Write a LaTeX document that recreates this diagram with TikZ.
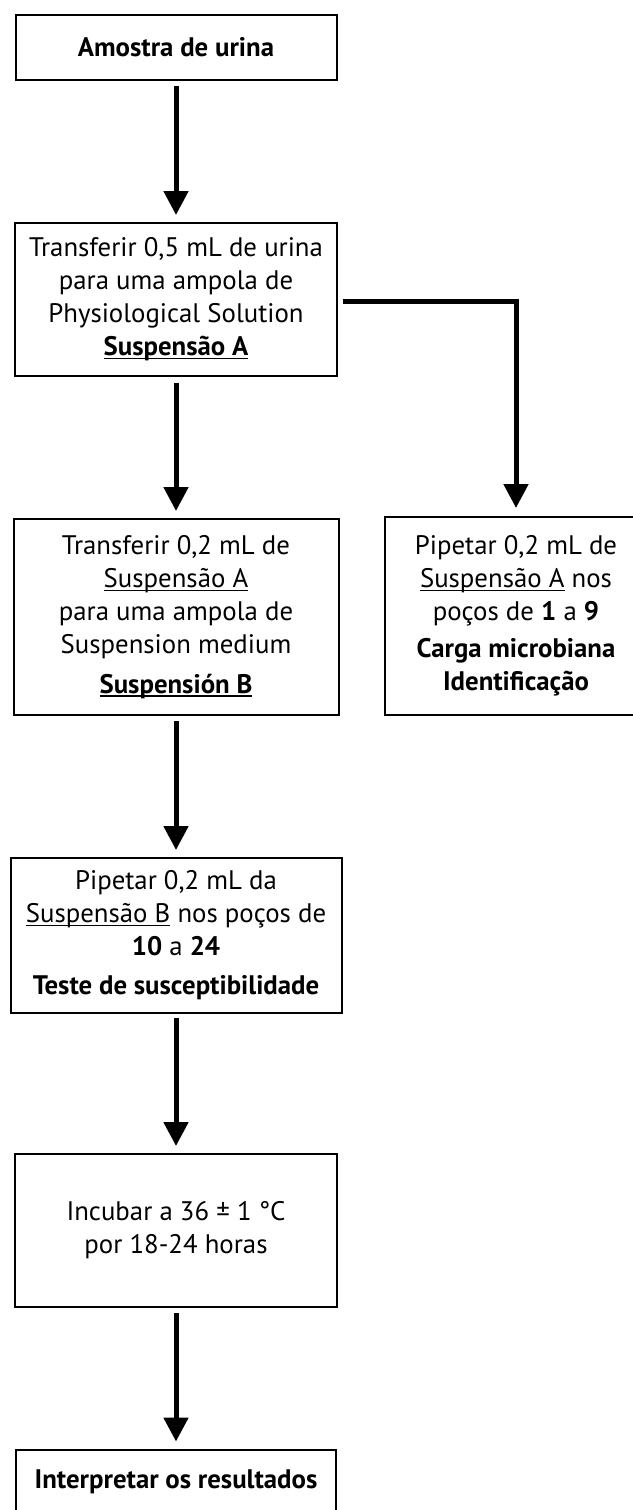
\documentclass[tikz,border=0pt]{standalone}
\usepackage{fontspec}
\setmainfont{PT Sans}
\usetikzlibrary{arrows.meta}
\newcommand{\myul}[2][1pt]{\setbox0=\hbox{#2}\leavevmode\rlap{\rule[-3.5pt]{\wd0}{#1}}\box0\relax}
\tikzset{
  box/.style={draw=black, line width=2pt, rectangle, align=center, inner sep=0pt,
    font=\fontsize{26.8}{33}\selectfont},
  flow/.style={line width=5pt, -{Triangle[width=24pt,length=24pt]}, line join=miter},
}
\begin{document}
\begin{tikzpicture}[x=1pt,y=1pt]
\useasboundingbox (0,0) rectangle (632,-1510);
\fill[white] (0,0) rectangle (632,-1510);
\node[box, minimum width=321pt, minimum height=65pt] (b1) at (176,-47.5) {\textbf{Amostra de urina}};
\node[box, minimum width=322pt, minimum height=153pt] (b2) at (176,-299.5)
  {Transferir 0,5 mL de urina\\para uma ampola de\\Physiological Solution\\\textbf{\myul[1.8pt]{Suspensão A}}};
\node[box, minimum width=325pt, minimum height=196pt] (b3) at (176,-617)
  {Transferir 0,2 mL de\\\myul{Suspensão A}\\para uma ampola de\\Suspension medium\\[7pt]\textbf{\myul[1.8pt]{Suspensión B}}};
\node[box, minimum width=262pt, minimum height=198pt] (b4) at (516,-616)
  {Pipetar 0,2 mL de\\\myul{Suspensão A} nos\\poços de \textbf{1} a \textbf{9}\\[4pt]\textbf{Carga microbiana}\\\textbf{Identificação}};
\node[box, minimum width=331pt, minimum height=155pt] (b5) at (176,-935.5)
  {Pipetar 0,2 mL da\\\myul{Suspensão B} nos poços de\\\textbf{10} a \textbf{24}\\[6pt]\textbf{Teste de susceptibilidade}};
\node[box, minimum width=322pt, minimum height=153pt] (b6) at (176,-1230.5)
  {Incubar a 36 ± 1 °C\\por 18-24 horas};
\node[box, minimum width=320pt, minimum height=65pt] (b7) at (176,-1482) {\textbf{Interpretar os resultados}};
\draw[flow, shorten <=5pt, shorten >=7pt] (b1) -- (b2);
\draw[flow, shorten <=6pt, shorten >=7pt] (b2) -- (b3);
\draw[flow, shorten <=5pt, shorten >=7pt] (b3) -- (b5);
\draw[flow, shorten <=4pt, shorten >=7pt] (b5) -- (b6);
\draw[flow, shorten <=5pt, shorten >=7pt] (b6) -- (b7);
\draw[flow, shorten >=8pt] ([xshift=5pt, yshift=-1.5pt]b2.east) -| (b4.north);
\end{tikzpicture}
\end{document}
